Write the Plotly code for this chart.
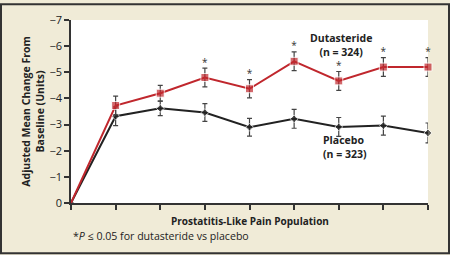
import plotly.graph_objects as go

timepoints = [0, 1, 2, 3, 4, 5, 6, 7, 8]
dutasteride = [0, -3.73, -4.2, -4.8, -4.37, -5.42, -4.67, -5.2, -5.2]
dutasteride_err = [0, 0.36, 0.3, 0.36, 0.35, 0.36, 0.36, 0.36, 0.36]
placebo = [0, -3.32, -3.62, -3.46, -2.9, -3.22, -2.91, -2.96, -2.68]
placebo_err = [0, 0.36, 0.28, 0.34, 0.34, 0.36, 0.36, 0.36, 0.38]
significant = [False, False, False, True, True, True, True, True, True]
y_ticks = [0, -1, -2, -3, -4, -5, -6, -7]
y_ticklabels = ["0", "\u22121", "\u22122", "\u22123", "\u22124", "\u22125", "\u22126", "\u22127"]

RED = "#c0272d"
BLACK = "#222222"
BG = "#f0ebd7"
FONT = "Open Sans"

fig = go.Figure()
fig.add_trace(go.Scatter(
    x=timepoints, y=placebo, mode="lines+markers",
    line=dict(color=BLACK, width=2),
    marker=dict(symbol="diamond", size=[0 if i == 0 else 6 for i in range(len(timepoints))], color=BLACK),
    error_y=dict(type="data", array=placebo_err,
                 color="#444444", thickness=1.2, width=2.5),
    showlegend=False, cliponaxis=False,
))
fig.add_trace(go.Scatter(
    x=timepoints, y=dutasteride, mode="lines+markers",
    line=dict(color=RED, width=2),
    marker=dict(symbol="square", size=[0 if i == 0 else 8 for i in range(len(timepoints))], color=RED),
    error_y=dict(type="data", array=dutasteride_err,
                 color="#444444", thickness=1.2, width=2.5),
    showlegend=False, cliponaxis=False,
))
star_x = [x for x, s in zip(timepoints, significant) if s]
star_y = [v - e for v, e, s in zip(dutasteride, dutasteride_err, significant) if s]
fig.add_trace(go.Scatter(
    x=star_x, y=star_y, mode="text", text=["*"] * len(star_x),
    textposition="top center", textfont=dict(family=FONT, size=10, color="#333333"),
    showlegend=False, cliponaxis=False, hoverinfo="skip",
))

fig.add_annotation(x=6.05, y=-6.05, xref="x", yref="y", text="<b>Dutasteride</b><br><b>(n = 324)</b>",
                   showarrow=False, font=dict(family=FONT, size=10.5, color="#222222"), align="center")
fig.add_annotation(x=5.6, y=-2.15, xref="x", yref="y", text="<b>Placebo</b><br><b>(n = 323)</b>",
                   showarrow=False, font=dict(family=FONT, size=10.5, color="#222222"), align="left",
                   xanchor="left")
fig.add_annotation(x=0.5, y=-0.097, xref="paper", yref="paper", text="<b>Prostatitis-Like Pain Population</b>",
                   showarrow=False, font=dict(family=FONT, size=10, color="#222222"), yanchor="middle")
fig.add_annotation(x=0.0, y=-0.183, xref="paper", yref="paper",
                   text="*<i>P</i> \u2264 0.05 for dutasteride vs placebo",
                   showarrow=False, font=dict(family=FONT, size=10.6, color="#222222"),
                   xanchor="left", yanchor="middle")

fig.add_shape(type="rect", xref="paper", yref="paper",
              x0=-70 / 357, x1=378 / 357, y0=-51 / 186, y1=202 / 186,
              line=dict(color="#333333", width=2), fillcolor="rgba(0,0,0,0)", layer="above")

fig.update_layout(
    width=450, height=255,
    margin=dict(l=71, r=22, t=17, b=52),
    paper_bgcolor=BG, plot_bgcolor="white",
    font=dict(family=FONT, size=10.5, color="#222222"),
    xaxis=dict(range=[0, 8], tickvals=timepoints, ticktext=[""] * len(timepoints),
               showgrid=False, zeroline=False, showline=True, linecolor="#333333", linewidth=1.5,
               ticks="outside", ticklen=5, tickcolor="#333333", tickwidth=1.5),
    yaxis=dict(range=[0, -7], tickvals=y_ticks, ticktext=y_ticklabels,
               showgrid=False, zeroline=False, showline=True, linecolor="#333333", linewidth=1.5,
               ticks="outside", ticklen=5, tickcolor="#333333", tickwidth=1.5,
               tickfont=dict(size=11),
               title=dict(text="<b>Adjusted Mean Change From</b><br><b>Baseline (Units)</b>",
                          font=dict(size=10.5), standoff=3)),
)

fig.write_html("out.html", config={"displayModeBar": False},
               post_script="document.body.style.margin='0';document.body.style.overflow='hidden';")
